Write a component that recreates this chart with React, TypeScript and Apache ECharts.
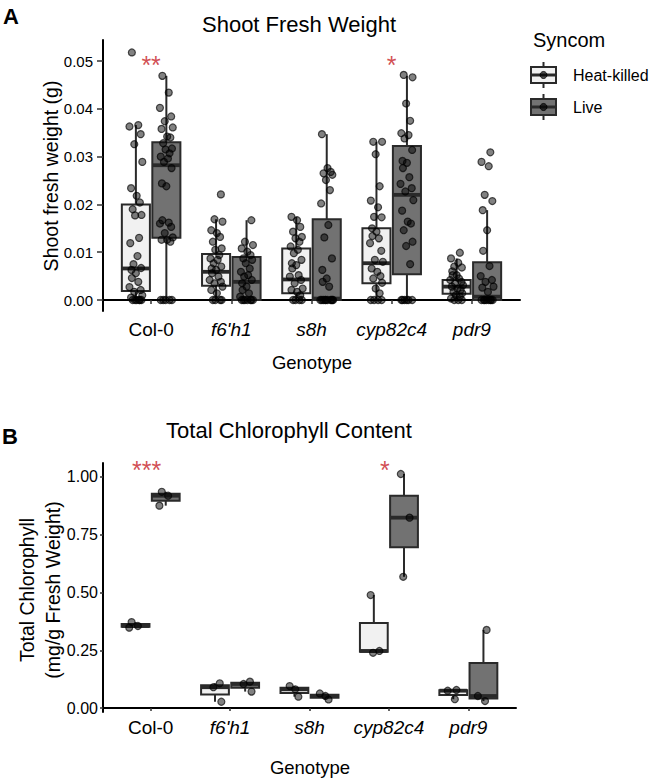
import React, { useEffect, useRef } from "react";
import * as echarts from "echarts";

const FONT = "'Liberation Sans', Arial, Helvetica, sans-serif";

// ---------- data ----------
const GENOTYPES = ["Col-0", "f6'h1", "s8h", "cyp82c4", "pdr9"];
const ITALIC = [false, true, true, true, true];
const SYNCOM = ["Heat-killed", "Live"];

// Panel A: shoot fresh weight (g), jittered observations
const FW_HEAT_KILLED: number[][] = [
  [0.0518, 0.0366, 0.0363, 0.0347, 0.0326, 0.0289, 0.0234, 0.0218, 0.0204, 0.019, 0.0178, 0.0177, 0.013, 0.0119, 0.0092, 0.0075, 0.0067, 0.0063, 0.0056, 0.0046, 0.0038, 0.0027, 0.0021, 0.0017, 0.001, 0.0005, 0, 0, 0, 0, 0, 0],
  [0.0221, 0.0169, 0.0164, 0.0146, 0.014, 0.0132, 0.0122, 0.0108, 0.0105, 0.0094, 0.0087, 0.0084, 0.0077, 0.007, 0.0066, 0.0063, 0.0056, 0.0049, 0.0042, 0.0038, 0.0035, 0.0028, 0.0021, 0.0014, 0, 0, 0, 0],
  [0.0174, 0.0167, 0.0153, 0.0143, 0.0132, 0.0129, 0.0122, 0.0112, 0.0105, 0.0098, 0.0084, 0.0077, 0.0073, 0.0066, 0.0052, 0.0049, 0.0042, 0.0035, 0.0024, 0.0021, 0.0017, 0.001, 0, 0, 0, 0],
  [0.0331, 0.0331, 0.0305, 0.0238, 0.0208, 0.0194, 0.0174, 0.0173, 0.015, 0.0143, 0.0134, 0.0129, 0.0119, 0.0103, 0.0084, 0.008, 0.0066, 0.0059, 0.005, 0.0045, 0.0036, 0.0024, 0.0014, 0, 0, 0, 0],
  [0.0099, 0.0087, 0.0078, 0.007, 0.0068, 0.006, 0.0052, 0.0052, 0.0045, 0.0042, 0.0038, 0.0035, 0.0031, 0.0028, 0.0024, 0.0021, 0.0017, 0.0014, 0.001, 0.0007, 0.0003, 0, 0, 0],
];
const FW_LIVE: number[][] = [
  [0.0469, 0.0434, 0.0402, 0.0384, 0.0374, 0.0361, 0.0358, 0.0342, 0.034, 0.0328, 0.0317, 0.0315, 0.0307, 0.03, 0.0296, 0.0289, 0.0276, 0.0244, 0.0238, 0.0167, 0.0162, 0.016, 0.0153, 0.014, 0.0131, 0.0126, 0.0126, 0.0122, 0, 0, 0, 0, 0],
  [0.0167, 0.0122, 0.0115, 0.0108, 0.0101, 0.0094, 0.0087, 0.0084, 0.0077, 0.0066, 0.0059, 0.0052, 0.0049, 0.0042, 0.0035, 0.0028, 0.0021, 0.0014, 0.0007, 0, 0, 0, 0, 0, 0, 0],
  [0.0347, 0.0276, 0.0268, 0.0265, 0.0262, 0.0251, 0.023, 0.0202, 0.0157, 0.0131, 0.0087, 0.0063, 0.0045, 0.0038, 0.0028, 0, 0, 0, 0, 0, 0, 0, 0, 0, 0],
  [0.0471, 0.0466, 0.0411, 0.0375, 0.0349, 0.0345, 0.0338, 0.0314, 0.0291, 0.0287, 0.0276, 0.0257, 0.0243, 0.0234, 0.0227, 0.0209, 0.0187, 0.0164, 0.016, 0.0146, 0.0122, 0.0113, 0.0075, 0, 0, 0, 0, 0, 0],
  [0.0309, 0.0289, 0.028, 0.022, 0.0207, 0.0188, 0.0146, 0.0103, 0.0071, 0.005, 0.0042, 0.0038, 0.0028, 0.0026, 0.0017, 0, 0, 0, 0, 0, 0, 0, 0],
];
// box stats: [lower whisker, Q1, median, Q3, upper whisker]
const FW_HEAT_KILLED_BOX: number[][] = [
  [0, 0.0019, 0.0066, 0.02, 0.0366],
  [0, 0.003, 0.0059, 0.0096, 0.0169],
  [0, 0.0014, 0.0043, 0.0108, 0.0174],
  [0, 0.0035, 0.0077, 0.015, 0.0331],
  [0, 0.0013, 0.0028, 0.0042, 0.0087],
];
const FW_LIVE_BOX: number[][] = [
  [0, 0.013, 0.0282, 0.033, 0.0469],
  [0, 0, 0.0038, 0.009, 0.0167],
  [0, 0, 0.0003, 0.0169, 0.0347],
  [0, 0.0054, 0.022, 0.0322, 0.0469],
  [0, 0, 0.0007, 0.0079, 0.0188],
];
const FW_SIG = ["**", "", "", "*", ""];
const FW_TICKS = [0, 0.01, 0.02, 0.03, 0.04, 0.05];

// Panel B: total chlorophyll (mg/g fresh weight)
const CHL_HEAT_KILLED: number[][] = [
  [0.372, 0.355, 0.348],
  [0.107, 0.09, 0.027],
  [0.095, 0.081, 0.049],
  [0.489, 0.247, 0.239],
  [0.078, 0.075, 0.038],
];
const CHL_LIVE: number[][] = [
  [0.936, 0.919, 0.876],
  [0.114, 0.104, 0.071],
  [0.063, 0.052, 0.037],
  [1.013, 0.824, 0.568],
  [0.338, 0.052, 0.03],
];
const CHL_HEAT_KILLED_BOX: number[][] = [
  [0.348, 0.3515, 0.355, 0.3635, 0.372],
  [0.027, 0.0585, 0.09, 0.0985, 0.107],
  [0.049, 0.065, 0.081, 0.088, 0.095],
  [0.239, 0.243, 0.247, 0.368, 0.489],
  [0.038, 0.0565, 0.075, 0.0765, 0.078],
];
const CHL_LIVE_BOX: number[][] = [
  [0.876, 0.8975, 0.919, 0.9275, 0.936],
  [0.071, 0.0875, 0.104, 0.109, 0.114],
  [0.037, 0.0445, 0.052, 0.0575, 0.063],
  [0.568, 0.696, 0.824, 0.9185, 1.013],
  [0.03, 0.041, 0.052, 0.195, 0.338],
];
const CHL_SIG = ["***", "", "", "*", ""];
const CHL_TICKS = [0, 0.25, 0.5, 0.75, 1.0];

// ---------- styling / layout ----------
const JITTER = [-0.05, 0.03, -0.08, 0.06, -0.02, 0.08, -0.06, 0.01, 0.05, -0.04, 0.07, -0.01, 0.04, -0.07, 0.02, -0.03, 0.065, -0.055, 0.0];
const DODGE = 0.19;
const BOX_W = 0.35;
const HK_FILL = "#f1f1f1";
const LIVE_FILL = "#727272";
const EDGE = "#2a2a2a";
const RED = "#c62026";

function boxSeries(stats: number[][], fill: string, offset: number, axis: number) {
  return {
    type: "custom",
    xAxisIndex: axis,
    yAxisIndex: axis,
    silent: true,
    z: 2,
    encode: { x: 0, y: [1, 2, 3, 4, 5] },
    data: stats.map((s, i) => [i + 1 + offset, ...s]),
    renderItem: (_params: any, api: any) => {
      const x = api.value(0);
      const lo = api.coord([x, api.value(1)]);
      const q1 = api.coord([x, api.value(2)]);
      const md = api.coord([x, api.value(3)]);
      const q3 = api.coord([x, api.value(4)]);
      const hi = api.coord([x, api.value(5)]);
      const w = api.size([BOX_W, 0])[0];
      const cx = lo[0];
      const lineStyle = { stroke: EDGE, lineWidth: 2, fill: null };
      return {
        type: "group",
        children: [
          { type: "line", shape: { x1: cx, y1: q3[1], x2: cx, y2: hi[1] }, style: lineStyle },
          { type: "line", shape: { x1: cx, y1: lo[1], x2: cx, y2: q1[1] }, style: lineStyle },
          {
            type: "rect",
            shape: { x: cx - w / 2, y: q3[1], width: w, height: q1[1] - q3[1] },
            style: { fill, stroke: EDGE, lineWidth: 2 },
          },
          {
            type: "line",
            shape: { x1: cx - w / 2, y1: md[1], x2: cx + w / 2, y2: md[1] },
            style: { stroke: EDGE, lineWidth: 3.8 },
          },
        ],
      };
    },
  };
}

function pointSeries(groups: number[][], offset: number, axis: number) {
  const data: number[][] = [];
  groups.forEach((vals, i) => {
    vals.forEach((v, k) => {
      data.push([i + 1 + offset + JITTER[(k + i * 3) % JITTER.length], v]);
    });
  });
  return {
    type: "scatter",
    xAxisIndex: axis,
    yAxisIndex: axis,
    silent: true,
    z: 3,
    symbolSize: 7,
    itemStyle: { color: "rgba(0,0,0,0.62)", borderColor: "rgba(0,0,0,0.85)", borderWidth: 1.2 },
    data,
  };
}

function sigSeries(labels: string[], y: number, dx: number, axis: number) {
  return {
    type: "scatter",
    xAxisIndex: axis,
    yAxisIndex: axis,
    silent: true,
    z: 4,
    symbolSize: 0,
    label: {
      show: true,
      position: "inside",
      formatter: "{b}",
      color: RED,
      fontSize: 25,
      fontFamily: FONT,
    },
    data: labels
      .map((t, i) => ({ name: t, value: [i + 1 + dx, y] }))
      .filter((d) => d.name !== ""),
  };
}

function xAxis(grid: number, fontSize: number, margin: number, tickLen: number) {
  return {
    type: "value",
    gridIndex: grid,
    min: 0.4,
    max: 5.6,
    splitLine: { show: false },
    axisLine: { show: true, lineStyle: { color: "#000", width: 2 } },
    axisTick: { show: true, length: tickLen, customValues: [1, 2, 3, 4, 5], lineStyle: { color: "#333", width: 1.5 } },
    axisLabel: {
      customValues: [1, 2, 3, 4, 5],
      margin,
      fontSize,
      fontFamily: FONT,
      color: "#000",
      formatter: (v: number) => {
        const i = Math.round(v) - 1;
        const n = GENOTYPES[i] ?? "";
        return ITALIC[i] ? `{it|${n}}` : n;
      },
      rich: { it: { fontStyle: "italic", fontSize, fontFamily: FONT, color: "#000" } },
    },
  };
}

function yAxis(grid: number, min: number, max: number, ticks: number[], fontSize: number, margin: number, tickLen: number) {
  return {
    type: "value",
    gridIndex: grid,
    min,
    max,
    splitLine: { show: false },
    axisLine: { show: true, lineStyle: { color: "#000", width: 2 } },
    axisTick: { show: true, length: tickLen, customValues: ticks, lineStyle: { color: "#333", width: 1.5 } },
    axisLabel: {
      customValues: ticks,
      margin,
      fontSize,
      fontFamily: FONT,
      color: "#000",
      formatter: (v: number) => v.toFixed(2),
    },
  };
}

function legendKey(cy: number, fill: string) {
  const cx = 543.5;
  return [
    { type: "line", shape: { x1: cx, y1: cy - 13, x2: cx, y2: cy + 13 }, style: { stroke: EDGE, lineWidth: 2 } },
    { type: "rect", shape: { x: 531, y: cy - 8, width: 25, height: 16 }, style: { fill, stroke: EDGE, lineWidth: 2 } },
    { type: "line", shape: { x1: 531, y1: cy, x2: 556, y2: cy }, style: { stroke: EDGE, lineWidth: 3 } },
    { type: "circle", shape: { cx, cy, r: 3.5 }, style: { fill: "rgba(0,0,0,0.65)", stroke: "rgba(0,0,0,0.85)", lineWidth: 1 } },
  ];
}

function text(x: number, y: number, t: string, size: number, extra: any = {}, rotation = 0) {
  return {
    type: "text",
    x,
    y,
    rotation,
    style: {
      text: t,
      fontSize: size,
      fontFamily: FONT,
      fill: "#000",
      align: "center",
      verticalAlign: "middle",
      ...extra,
    },
  };
}

function buildOption() {
  return {
    animation: false,
    backgroundColor: "#fff",
    grid: [
      { left: 103, top: 40, width: 417, height: 271 },
      { left: 103, top: 463, width: 413, height: 249 },
    ],
    xAxis: [xAxis(0, 19, 9, 4), xAxis(1, 19, 6, 3)],
    yAxis: [
      yAxis(0, -0.0023, 0.0544, FW_TICKS, 15, 10, 6),
      yAxis(1, -0.0173, 1.0606, CHL_TICKS, 16, 5, 3),
    ],
    series: [
      boxSeries(FW_HEAT_KILLED_BOX, HK_FILL, -DODGE, 0),
      boxSeries(FW_LIVE_BOX, LIVE_FILL, DODGE, 0),
      pointSeries(FW_HEAT_KILLED, -DODGE, 0),
      pointSeries(FW_LIVE, DODGE, 0),
      sigSeries(FW_SIG, 0.0492, 0, 0),
      boxSeries(CHL_HEAT_KILLED_BOX, HK_FILL, -DODGE, 1),
      boxSeries(CHL_LIVE_BOX, LIVE_FILL, DODGE, 1),
      pointSeries(CHL_HEAT_KILLED, -DODGE, 1),
      pointSeries(CHL_LIVE, DODGE, 1),
      sigSeries(CHL_SIG, 1.03, -0.05, 1),
    ],
    graphic: [
      text(3, 16, "A", 22, { fontWeight: "bold", align: "left" }),
      text(2, 436, "B", 22, { fontWeight: "bold", align: "left" }),
      text(299, 24, "Shoot Fresh Weight", 22),
      text(289, 430, "Total Chlorophyll Content", 22),
      text(51, 176, "Shoot fresh weight (g)", 19.5, {}, Math.PI / 2),
      text(40, 590, "Total Chlorophyll\n(mg/g Fresh Weight)", 19.5, { lineHeight: 26 }, Math.PI / 2),
      text(312, 362, "Genotype", 18.5),
      text(310, 767, "Genotype", 18.5),
      text(533, 40, "Syncom", 20, { align: "left" }),
      ...legendKey(75, HK_FILL),
      ...legendKey(107, LIVE_FILL),
      text(573, 75, SYNCOM[0], 16, { align: "left" }),
      text(573, 107, SYNCOM[1], 16, { align: "left" }),
    ],
  };
}

export default function App() {
  const ref = useRef<HTMLDivElement>(null);
  useEffect(() => {
    const chart = echarts.init(ref.current!, null, { renderer: "svg" });
    chart.setOption(buildOption() as any);
    return () => chart.dispose();
  }, []);
  return (
    <div
      ref={ref}
      style={{ position: "absolute", left: 0, top: 0, width: 650, height: 780, background: "#fff" }}
    />
  );
}
